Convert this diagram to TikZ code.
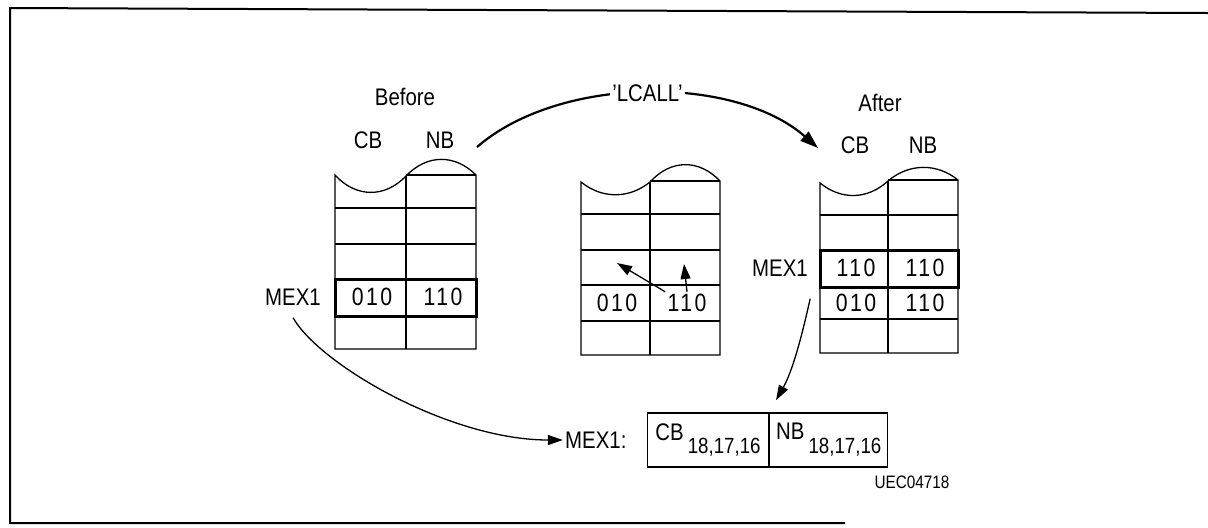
\documentclass[tikz,border=0pt]{standalone}
\usepackage{fontspec}
\setmainfont[FakeStretch=0.85]{Liberation Sans}
\newfontfamily\digitfam[FakeStretch=0.85,LetterSpace=10]{Liberation Sans}
\usetikzlibrary{arrows.meta,positioning}
\newcommand{\lblfont}{\fontsize{12}{14}\selectfont}
\newcommand{\subfont}{\fontsize{11}{13}\selectfont}
\newcommand{\valfont}{\digitfam\fontsize{12.5}{14}\selectfont}

\begin{document}
\begin{tikzpicture}[
  x=0.5pt, y=-0.5pt,
  grid/.style={line width=0.65pt},
  hilite/.style={line width=1.5pt},
  lbl/.style={font=\lblfont, inner sep=1pt},
  val/.style={font=\valfont, inner sep=1pt},
  cell/.style={draw, line width=0.65pt, minimum height=27pt, inner sep=0pt, font=\lblfont},
  link/.style={-{Triangle[length=7.5pt,width=5pt]}, line width=0.65pt},
  callarrow/.style={-{Triangle[length=9pt,width=6pt]}, line width=1.1pt}
]
\useasboundingbox (0,0) rectangle (1208,527);
% frame
\draw[line width=1pt] (1208,13) -- (10,8) -- (10,523) -- (845,523);

% stack before
\draw[grid] (335,175) .. controls (356,198) and (385,198) .. (406,176)
  .. controls (427,154) and (455,154) .. (476,175) -- (476,349) -- (335,349) -- cycle;
\draw[grid] (406,176) -- (406,349);
\draw[grid] (406,175) -- (476,175);
\foreach \y in {208,244} \draw[grid] (335,\y) -- (476,\y);
\draw[hilite] (335,279) rectangle (476,316);
\node[lbl] (before) at (405,97) {Before};
\node[lbl] (bcb) at (368,140) {CB};
\node[lbl] (bnb) at (440,140) {NB};
\node[val] (b010) at (372,297) {010};
\node[val] (b110) at (443,297) {110};
\node[lbl] (bmex) at (293,297) {MEX1};

% stack during call
\draw[grid] (581,182) .. controls (602,199) and (629,199) .. (650,182)
  .. controls (671,159) and (699,159) .. (720,181) -- (720,355) -- (581,355) -- cycle;
\draw[grid] (650,182) -- (650,355);
\draw[grid] (650,181) -- (720,181);
\foreach \y in {214,250,285,321} \draw[grid] (581,\y) -- (720,\y);
\node[val] (m010) at (617,303) {010};
\node[val] (m110) at (687,303) {110};
\coordinate (mtipA) at (617,263);
\coordinate (mtipB) at (684,264);

% stack after
\draw[grid] (820,183) .. controls (841,200) and (867,200) .. (888,181)
  .. controls (909,163) and (937,163) .. (958,180) -- (958,353) -- (820,353) -- cycle;
\draw[grid] (888,181) -- (888,353);
\draw[grid] (888,180) -- (958,180);
\foreach \y in {215,319} \draw[grid] (820,\y) -- (958,\y);
\draw[hilite] (820,250) rectangle (958,287);
\node[lbl] (after) at (880,103) {After};
\node[lbl] (acb) at (855,145) {CB};
\node[lbl] (anb) at (923,145) {NB};
\node[val] (a110a) at (856,268) {110};
\node[val] (a110b) at (925,268) {110};
\node[val] (a010) at (856,303) {010};
\node[val] (a110c) at (925,303) {110};
\node[lbl] (amex) at (780,268) {MEX1};

% MEX1 register
\node[cell, minimum width=60.5pt] (cbcell) at (708,440)
  {CB\,\raisebox{-1.1ex}{\subfont 18,17,16}};
\node[cell, minimum width=59pt, right=0pt of cbcell] (nbcell)
  {NB\,\raisebox{-1.1ex}{\subfont 18,17,16}};
\node[lbl, left=9pt of cbcell] (boxlbl) {MEX1:};
\node[lbl, font=\fontsize{9}{11}\selectfont] (figid) at (912,482) {UEC04718};

% call
\coordinate (lcallA) at (477,147);
\coordinate (lcallB) at (818,148);
\draw[callarrow] (lcallA) .. controls (560,75) and (735,75) .. (lcallB)
  node[pos=0.5, fill=white, lbl] (lcall) {'LCALL'};

\draw[link] (m110.north west) -- (mtipA);
\draw[link] (m110.north) -- (mtipB);
\draw[link] ([yshift=-5pt]bmex.south) .. controls (320,365) and (450,440) .. (boxlbl.west);
\draw[link, shorten >=7pt] ([yshift=-10pt]amex.south east) .. controls (801,340) and (792,372) .. (nbcell.north west);
\end{tikzpicture}
\end{document}
